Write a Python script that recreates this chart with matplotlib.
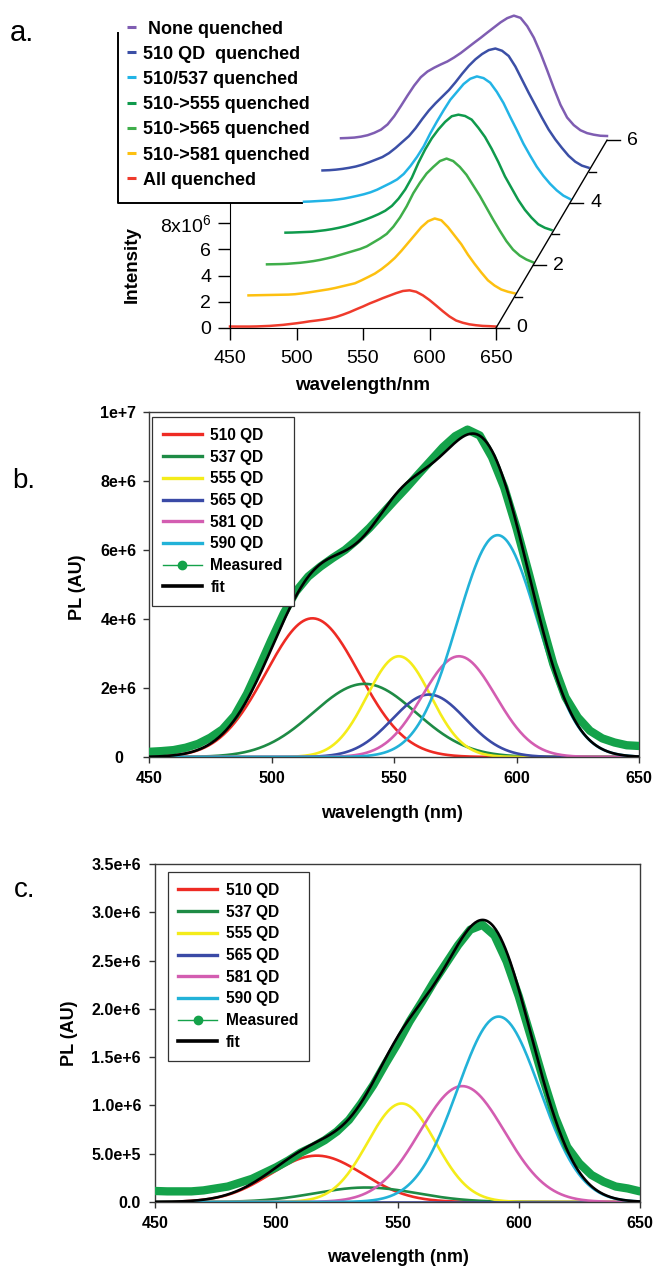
import numpy as np
import matplotlib.pyplot as plt
from matplotlib.lines import Line2D

plt.rcParams['font.family'] = ['Liberation Sans', 'DejaVu Sans']
plt.rcParams['mathtext.fontset'] = 'custom'
plt.rcParams['mathtext.rm'] = 'Liberation Sans'
plt.rcParams['mathtext.default'] = 'rm'

W, H = 654, 1266

# wavelength grid of the spectra (nm)
wl = np.arange(450, 651, 5)

# measured PL spectra, units of 1e6
none_quenched = [0.15, 0.17, 0.20, 0.27, 0.38, 0.56, 0.80, 1.20, 1.83, 2.60,
                 3.40, 4.16, 4.80, 5.23, 5.52, 5.77, 6.00, 6.30, 6.64, 7.03,
                 7.42, 7.80, 8.20, 8.59, 8.98, 9.30, 9.49, 9.32, 8.69, 7.81,
                 6.64, 5.33, 3.97, 2.70, 1.73, 1.15, 0.76, 0.54, 0.42, 0.34, 0.32]
q510 = [0.08, 0.10, 0.14, 0.20, 0.28, 0.38, 0.52, 0.70, 0.90, 1.10,
        1.40, 1.80, 2.25, 2.70, 3.30, 4.00, 4.65, 5.20, 5.70, 6.20,
        6.80, 7.45, 8.05, 8.55, 8.95, 9.25, 9.37, 9.20, 8.80, 8.00,
        7.00, 6.00, 5.05, 4.10, 3.20, 2.45, 1.80, 1.20, 0.75, 0.45, 0.29]
q510_537 = [0.08, 0.10, 0.13, 0.16, 0.19, 0.25, 0.32, 0.42, 0.53, 0.65,
            0.80, 1.00, 1.25, 1.50, 1.78, 2.20, 2.80, 3.50, 4.30, 5.30,
            6.20, 7.05, 7.85, 8.45, 9.05, 9.45, 9.63, 9.50, 9.15, 8.45,
            7.60, 6.55, 5.55, 4.50, 3.60, 2.75, 2.05, 1.45, 0.95, 0.55, 0.29]
q510_555 = [0.11, 0.12, 0.14, 0.16, 0.18, 0.24, 0.30, 0.38, 0.48, 0.60,
            0.75, 0.92, 1.10, 1.30, 1.52, 1.78, 2.15, 2.70, 3.40, 4.30,
            5.45, 6.45, 7.30, 7.98, 8.55, 8.98, 9.10, 9.00, 8.72, 8.10,
            7.40, 6.50, 5.50, 4.40, 3.50, 2.60, 1.85, 1.25, 0.75, 0.48, 0.31]
q510_565 = [0.08, 0.09, 0.10, 0.12, 0.16, 0.20, 0.26, 0.33, 0.42, 0.53,
            0.65, 0.80, 0.95, 1.10, 1.25, 1.45, 1.75, 2.05, 2.40, 2.95,
            3.65, 4.50, 5.50, 6.30, 7.00, 7.50, 7.95, 8.14, 7.95, 7.50,
            6.90, 6.10, 5.30, 4.40, 3.50, 2.65, 1.85, 1.20, 0.75, 0.45, 0.24]
q510_581 = [0.10, 0.11, 0.12, 0.13, 0.14, 0.15, 0.16, 0.19, 0.25, 0.32,
            0.40, 0.48, 0.56, 0.66, 0.78, 0.90, 1.02, 1.25, 1.50, 1.76,
            2.10, 2.50, 2.95, 3.50, 4.10, 4.70, 5.30, 5.75, 5.96, 5.82,
            5.30, 4.65, 4.00, 3.20, 2.50, 1.85, 1.25, 0.85, 0.55, 0.38, 0.26]
all_quenched = [0.114, 0.11, 0.11, 0.11, 0.12, 0.14, 0.16, 0.20, 0.24, 0.30,
                0.36, 0.43, 0.51, 0.57, 0.64, 0.73, 0.85, 1.02, 1.21, 1.43,
                1.64, 1.87, 2.07, 2.28, 2.47, 2.66, 2.82, 2.87, 2.76, 2.49,
                2.13, 1.71, 1.28, 0.88, 0.57, 0.40, 0.28, 0.21, 0.16, 0.14, 0.11]

stack_labels = [' None quenched', '510 QD  quenched', '510/537 quenched',
                '510->555 quenched', '510->565 quenched', '510->581 quenched',
                'All quenched']
stack_colors = ['#7f5db2', '#3b4fa6', '#22b4e6', '#0f9a4c', '#3fae4a',
                '#fdc010', '#ef3b2c']
stack_data = [none_quenched, q510, q510_537, q510_555, q510_565, q510_581,
              all_quenched]

# gaussian fit components: centre (nm), width sigma (nm), height (1e6)
qd_labels = ['510 QD', '537 QD', '555 QD', '565 QD', '581 QD', '590 QD']
qd_colors = ['#ee2b24', '#1e8b45', '#f4ec1a', '#3a4aa6', '#d35db1', '#22b2d8']
b_center = [516.7, 538.0, 552.0, 564.3, 576.5, 592.3]
b_width = [19.0, 21.0, 13.0, 15.0, 15.0, 16.5]
b_height = [4.02, 2.12, 2.92, 1.81, 2.92, 6.43]
c_center = [516.7, 537.0, 551.7, 565.0, 576.7, 591.7]
c_width = [19.0, 21.0, 14.0, 15.0, 17.5, 17.0]
c_height = [0.48, 0.15, 1.02, 0.0, 1.20, 1.92]

b_yticks = [0, 2, 4, 6, 8, 10]
b_yticklabels = ['0', '2e+6', '4e+6', '6e+6', '8e+6', '1e+7']
c_yticks = [0, 0.5, 1.0, 1.5, 2.0, 2.5, 3.0, 3.5]
c_yticklabels = ['0.0', '5.0e+5', '1.0e+6', '1.5e+6', '2.0e+6', '2.5e+6',
                 '3.0e+6', '3.5e+6']
wl_ticks = [450, 500, 550, 600, 650]

MEASURED = '#14a24a'

fig = plt.figure(figsize=(W / 100, H / 100), dpi=100)


def px_axes(left, top, right, bottom):
    return fig.add_axes([left / W, 1 - bottom / H, (right - left) / W,
                         (bottom - top) / H])


# overlay in pixel units for free text
ov = fig.add_axes([0, 0, 1, 1])
ov.set_xlim(0, W)
ov.set_ylim(H, 0)
ov.axis('off')

# ---- a. waterfall of measured spectra ----
ax = px_axes(230, 5, 650, 328)
ax.patch.set_visible(False)
ax.set_xlim(450, 450 + 420 * 200 / 266)
ax.set_ylim(0, 323 / 13.125)

x0, y0 = ax.transData.transform((450, 0))
x1, y1 = ax.transData.transform((650, 8))
nm_per_px = 200 / (x1 - x0)
step_x = 18.5 * nm_per_px
step_y = 31.3 * 8 / (y1 - y0)

n = len(stack_data)
for row, (vals, color) in enumerate(zip(stack_data, stack_colors)):
    depth = n - 1 - row
    ax.plot(wl + depth * step_x, np.array(vals) + depth * step_y,
            color=color, lw=1.8, clip_on=False)

ax.spines['top'].set_visible(False)
ax.spines['right'].set_visible(False)
ax.spines['left'].set_bounds(0, 9.5)
ax.spines['bottom'].set_bounds(450, 650)
ax.set_xticks(wl_ticks)
ax.set_yticks([0, 2, 4, 6, 8])
ax.set_yticklabels(['0', '2', '4', '6', '8x10$^6$'])
ax.tick_params(direction='out', length=8.5, width=1, labelsize=14)
ax.tick_params(axis='y', pad=5)
ax.tick_params(axis='x', pad=7)

# depth axis
ax.plot([650, 650 + (n - 1) * step_x], [0, (n - 1) * step_y], color='k',
        lw=1, clip_on=False)
for k in range(n):
    tx, ty = 650 + k * step_x, k * step_y
    tl = 13 if k % 2 == 0 else 7
    ax.plot([tx, tx + tl * nm_per_px], [ty, ty], color='k', lw=1,
            clip_on=False)
    if k % 2 == 0:
        ax.text(tx + 20 * nm_per_px, ty, str(k), fontsize=14, va='center',
                ha='left')

# legend of panel a
ov.plot([118, 118, 302], [33, 203, 203], color='k', lw=1.4)
for row, (lab, color) in enumerate(zip(stack_labels, stack_colors)):
    y = 29 + 25.2 * row
    ov.plot([127, 136], [y - 2, y - 2], color=color, lw=2.2,
            solid_capstyle='butt')
    ov.text(143, y, lab, fontsize=13, fontweight='bold', va='center',
            ha='left')

ov.text(132, 265, 'Intensity', rotation=90, fontsize=13.5, fontweight='bold',
        ha='center', va='center')
ov.text(363, 385, 'wavelength/nm', fontsize=13.5, fontweight='bold',
        ha='center', va='center')


# ---- b. and c. gaussian decomposition ----
fine = np.linspace(450, 650, 401)


def decomposition(box, centers, widths, heights, measured, yticks,
                  yticklabels, ytick_ha, ytick_pad, legend_xy):
    axp = px_axes(*box)
    comps = [h * np.exp(-0.5 * ((fine - c) / w) ** 2)
             for c, h, w in zip(centers, heights, widths)]
    for comp, color in zip(comps, qd_colors):
        axp.plot(fine, comp, color=color, lw=1.9, zorder=2)
    axp.plot(wl, measured, color=MEASURED, lw=6, solid_capstyle='round',
             solid_joinstyle='round', zorder=3)
    axp.plot(fine, np.sum(comps, axis=0), color='k', lw=1.9, zorder=4)

    axp.set_xlim(450, 650)
    axp.set_ylim(yticks[0], yticks[-1])
    axp.set_xticks(wl_ticks)
    axp.set_xticklabels([str(t) for t in wl_ticks], fontweight='bold')
    axp.set_yticks(yticks)
    axp.set_yticklabels(yticklabels, fontweight='bold', ha=ytick_ha)
    axp.tick_params(direction='out', length=4, width=1, labelsize=11.5,
                    color='#333333')
    axp.tick_params(axis='x', pad=6)
    axp.tick_params(axis='y', pad=ytick_pad)
    for s in axp.spines.values():
        s.set_color('#3a3a3a')
        s.set_linewidth(1.0)

    handles = [Line2D([], [], color=c, lw=2.4) for c in qd_colors]
    handles.append(Line2D([], [], color=MEASURED, lw=1, marker='o', ms=6))
    handles.append(Line2D([], [], color='k', lw=2.6))
    leg = axp.legend(handles, qd_labels + ['Measured', 'fit'],
                     loc='upper left',
                     bbox_to_anchor=(legend_xy[0] / W, 1 - legend_xy[1] / H),
                     bbox_transform=fig.transFigure, fancybox=False,
                     edgecolor='#333333', framealpha=1, borderaxespad=0,
                     borderpad=0.7, handlelength=2.5, handletextpad=0.55,
                     labelspacing=0.43, prop=dict(size=11.2, weight='bold'))
    leg.get_frame().set_linewidth(0.9)
    return axp


decomposition((149, 412, 639, 757), b_center, b_width, b_height,
              none_quenched, b_yticks, b_yticklabels, 'center', 18,
              (152, 417))
decomposition((155, 864, 640, 1202), c_center, c_width, c_height,
              all_quenched, c_yticks, c_yticklabels, 'right', 6,
              (167.5, 872))

ov.text(567, 462, 'None\nquenched', fontsize=16.5, fontweight='bold',
        ha='center', va='center', linespacing=1.2)
ov.text(461, 897, 'All quenched', fontsize=16.5, fontweight='bold',
        ha='center', va='center')
ov.text(78, 587, 'PL (AU)', rotation=90, fontsize=13, fontweight='bold',
        ha='center', va='center')
ov.text(69, 1033, 'PL (AU)', rotation=90, fontsize=13, fontweight='bold',
        ha='center', va='center')
ov.text(392, 813, 'wavelength (nm)', fontsize=13, fontweight='bold',
        ha='center', va='center')
ov.text(398, 1257, 'wavelength (nm)', fontsize=13, fontweight='bold',
        ha='center', va='center')

ov.text(10, 41, 'a.', fontsize=21, va='baseline')
ov.text(12, 488, 'b.', fontsize=20, va='baseline')
ov.text(14, 897, 'c.', fontsize=20, va='baseline')

fig.savefig('out.png', dpi=100)
